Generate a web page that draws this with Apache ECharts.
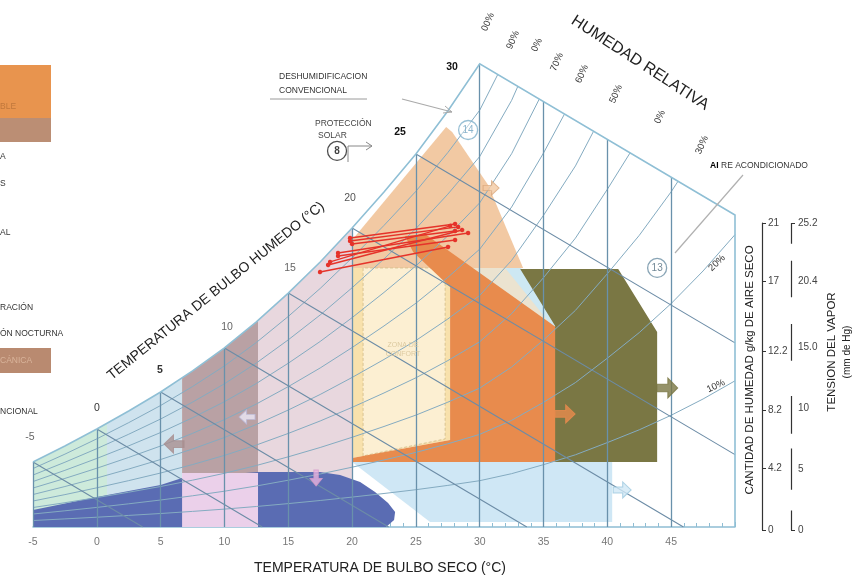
<!DOCTYPE html>
<html><head><meta charset="utf-8">
<script src="https://cdn.jsdelivr.net/npm/echarts@6/dist/echarts.min.js"></script>
<style>html,body{margin:0;padding:0;background:#fff}#main{width:868px;height:583px}</style>
</head><body><div id="main"></div>
<script>
// ---- data (x: dry-bulb °C, y: humidity in the chart's own scale) ----
const satT = [-5,-2.5,0,2.5,5,7.5,10,12.5,15,17.5,20,22.5,25,27.5,30,32.5,35,37.5,40,42.5,45,47.5,50];
const satW = [4.47,5.57,6.74,7.98,9.29,10.74,12.32,14.11,16.10,18.24,20.58,23.06,25.67,28.63,31.87,36.7,42.9,49.7,58.1,66.9,76.9,88.1,100.6];
const rhLevels = [10,20,30,40,50,60,70,80,90];
const wetBulbT = [-5,0,5,10,15,20,25];
const dryBulbLines = [-5,0,5,10,15,20,25,30,35,40,45];
const topEdge = [[30,31.87],[50,21.47]];
const zoneEdges = [-5,0.8,6.68,12.63,20];
const mauveBottom = 3.72;

const humidityTicks = [0,4.2,8.2,12.2,17,21];
const vaporTicks = [0,5,10,15,20.4,25.2];
const vaporSegments = [[25.2,23.5],[22.1,19.1],[16.9,13.9],[11.0,7.9],[6.7,3.3],[1.6,0]];

const regionDarkBlue = [[-5,0],[-5,1.17],[0,2.06],[5,2.89],[6.68,3.37],[12.63,3.79],[17.49,3.79],[19.06,3.58],[20.63,3.10],[21.8,2.41],[22.82,1.65],[23.37,1.03],[23.29,0.48],[22.66,0]];
const regionPinkRect = [[6.68,0],[6.68,3.72],[12.63,3.72],[12.63,0]];
const regionLightBlueLow = [[20,4.47],[40.38,4.47],[40.38,0.34],[26.11,0.34]];
const regionBeige = [[27.68,17.83],[32.38,17.83],[36.07,13.56],[36.07,4.47],[27.68,4.47]];
const regionBlueTri = [[31.99,17.83],[33.24,17.83],[36.07,13.83],[36.07,13.4]];
const regionPeach = [[20,19.75],[27.37,27.53],[27.84,27.19],[30.66,23.54],[33.4,17.83],[20,17.83]];
const regionCream = [[20,17.83],[27.68,17.83],[27.68,5.99],[20,4.75]];
const regionInner = [[20.86,4.89],[20.86,17.83],[27.29,17.83],[27.29,6.06]];
const regionOrange = [[24.15,20.03],[25.72,20.17],[36.07,13.7],[36.07,4.47],[20,4.47],[20,4.75],[27.68,5.99],[27.68,16.52],[24.78,18.93]];
const regionOlive = [[33.17,17.76],[40.85,17.76],[43.9,13.42],[43.9,4.47],[35.91,4.47],[35.91,13.83]];

const redStartT = [19.84,19.84,20.0,18.9,18.28,18.12,17.49,18.9];
const redStartW = [19.89,19.68,19.48,18.86,18.24,18.03,17.55,18.65];
const redEndT   = [28.07,28.31,28.07,29.09,27.68,28.62,27.52,28.07];
const redEndW   = [20.85,20.65,20.37,20.23,20.72,20.44,19.27,19.75];

const arrowT = [36.69,44.69,6.05,41.16,11.77,17.18,30.89];
const arrowW = [7.78,9.57,5.71,2.55,7.57,3.37,23.33];
const arrowDir = [0,0,180,0,180,-90,0];

const markerLabel = ['14','13','8'];
const markerT = [29.09,43.9,18.82];
const markerW = [27.32,17.83,25.88];

// ---- geometry helpers (chart construction) ----
function satAt(t){
  for(let i=0;i<satT.length-1;i++){
    if(t>=satT[i] && t<=satT[i+1]){const f=(t-satT[i])/(satT[i+1]-satT[i]);return satW[i]+f*(satW[i+1]-satW[i]);}
  }
  return satW[satW.length-1];
}
const topSlope=(topEdge[1][1]-topEdge[0][1])/(topEdge[1][0]-topEdge[0][0]);
function topAt(t){return t<=30?satAt(t):topEdge[0][1]+(t-30)*topSlope;}
function strip(t0,t1,wb){
  const pts=[[t0,wb],[t0,satAt(t0)]];
  satT.forEach((t,i)=>{if(t>t0&&t<t1)pts.push([t,satW[i]]);});
  pts.push([t1,satAt(t1)]);pts.push([t1,wb]);return pts;
}
function rhCurve(p){
  const f=p/100,pts=[];
  for(let i=0;i<satT.length;i++){
    const t=satT[i],w=f*satW[i],top=topAt(t);
    if(w<=top){pts.push([t,w]);}
    else{const tp=satT[i-1],wp=f*satW[i-1],topp=topAt(tp);
      const a=(topp-wp)/((w-top)+(topp-wp));
      pts.push([tp+a*(t-tp),wp+a*(w-wp)]);break;}
  }
  return pts;
}
function wbLine(t0){
  const w0=satAt(t0),s=-topSlope,t1=t0+w0/s;
  if(t1<=50)return [[t0,w0],[t1,0]];
  return [[t0,w0],[50,w0-s*(50-t0)]];
}

const regions=[
  {pts:strip(zoneEdges[0],zoneEdges[1],0),fill:'#cdeadb'},
  {pts:strip(zoneEdges[1],zoneEdges[2],0),fill:'#cfe3ee'},
  {pts:strip(zoneEdges[2],zoneEdges[3],mauveBottom),fill:'#b9a1a4'},
  {pts:strip(zoneEdges[3],zoneEdges[4],0),fill:'#e8d7de'},
  {pts:regionDarkBlue,fill:'#5a6cb3'},
  {pts:regionPinkRect,fill:'#ebd0ea'},
  {pts:regionLightBlueLow,fill:'#cfe7f5'},
  {pts:regionBeige,fill:'#ebe3d0'},
  {pts:regionBlueTri,fill:'#cde8f3'},
  {pts:regionPeach,fill:'#f2c9a3'},
  {pts:regionCream,fill:'#f8e1ac'},
  {pts:regionInner,fill:'#fcefd2',stroke:'#d8c391',dash:[3,2],lw:1},
  {pts:regionOrange,fill:'#e88b4d'},
  {pts:regionOlive,fill:'#7a7744'}
];

const boundary=[];
satT.forEach((t,i)=>{if(t<=30)boundary.push([t,satW[i]]);});
boundary.push(topEdge[1]);boundary.push([50,0]);

const arrowColors=['#e88b4d','#7a7744','#a88f90','#cfe7f5','#ebe8f6','#e9b3de','#f2c9a3'];
const arrowBorders=['#e88b4d','#7a7744','#a88f90','#9cc8de','#b9b6d6','#d69acb','#d9a67c'];
const arrowSizes=[[20,18],[21,20],[20,18],[18,16],[16,14],[16,12],[16,14]];
const arrowPath='path://M0,5 L9,5 L9,0 L17,8 L9,16 L9,11 L0,11 Z';

const font='Liberation Sans, Arial, sans-serif';
function txt(text,x,y,o){o=o||{};return {type:'text',x:x,y:y,rotation:o.rot||0,z:100,silent:true,
  style:{text:text,fill:o.fill||'#222',fontSize:o.size||10,fontFamily:font,fontWeight:o.weight||'normal',align:o.align||'center',verticalAlign:'middle'}};}
function ln(x1,y1,x2,y2,c,w){return {type:'line',z:100,silent:true,shape:{x1:x1,y1:y1,x2:x2,y2:y2},style:{stroke:c||'#999',lineWidth:w||1}};}
function pl(pts,c,w){return {type:'polyline',z:100,silent:true,shape:{points:pts},style:{stroke:c||'#999',lineWidth:w||1,fill:null}};}
function box(x,y,w,h,c){return {type:'rect',z:90,silent:true,shape:{x:x,y:y,width:w,height:h},style:{fill:c}};}

const rhText=[['00%',488,22],['90%',513,40],['0%',537,45],['70%',557,62],['60%',582,74],['50%',616,94],['0%',660,117],['30%',702,145]];
const wbText=[['-5',30,437,'#666','normal'],['0',97,408,'#333','normal'],['5',160,370,'#333','bold'],['10',227,327,'#666','normal'],['15',290,268,'#666','normal'],['20',350,198,'#555','normal'],['25',400,132,'#111','bold'],['30',452,67,'#111','bold']];

const graphics=[
  txt('TEMPERATURA DE BULBO SECO (°C)',380,568,{size:14}),
  txt('TEMPERATURA DE BULBO HUMEDO (°C)',216,291,{size:14,rot:0.68}),
  txt('HUMEDAD RELATIVA',640,63,{size:16,rot:-0.576}),
  txt('20%',717,263,{size:9.5,rot:0.75,fill:'#333'}),
  txt('10%',716,386,{size:9.5,rot:0.45,fill:'#333'}),
  txt('CANTIDAD DE HUMEDAD g/kg DE AIRE SECO',750,370,{size:11.5,rot:Math.PI/2}),
  txt('TENSION DEL VAPOR',832,352,{size:11.5,rot:Math.PI/2}),
  txt('(mm de Hg)',847,352,{size:10,rot:Math.PI/2}),
  txt('DESHUMIDIFICACION',279,77,{size:8.5,align:'left',fill:'#333'}),
  txt('CONVENCIONAL',279,91,{size:8.5,align:'left',fill:'#333'}),
  ln(270,99,367,99,'#9a9a9a',1),
  ln(402,99,452,112,'#aaa',1.2),
  pl([[445,106],[452,112],[443,113]],'#aaa',1),
  txt('PROTECCIÓN',315,124,{size:8.5,align:'left',fill:'#444'}),
  txt('SOLAR',318,136,{size:8.5,align:'left',fill:'#444'}),
  pl([[348,162],[348,146],[372,146]],'#888',1),
  pl([[366,142],[372,146],[366,150]],'#888',1),
  txt('AI',710,166,{size:8.5,align:'left',weight:'bold',fill:'#000'}),
  txt('RE ACONDICIONADO',721,166,{size:8.5,align:'left',fill:'#333'}),
  ln(743,175,675,253,'#b0b0b0',1.2),
  txt('ZONA DE',403,345,{size:7,fill:'#dccaa0'}),
  txt('CONFORT',403,354,{size:7,fill:'#dccaa0'}),
  box(0,65,51,53,'#e8944e'),
  box(0,118,51,24,'#bb8e74'),
  txt('BLE',0,107,{size:8.5,align:'left',fill:'#c0783c'}),
  txt('A',0,157,{size:8.5,align:'left',fill:'#333'}),
  txt('S',0,184,{size:8.5,align:'left',fill:'#333'}),
  txt('AL',0,233,{size:8.5,align:'left',fill:'#333'}),
  txt('RACIÓN',0,308,{size:8.5,align:'left',fill:'#333'}),
  txt('ÓN NOCTURNA',0,334,{size:8.5,align:'left',fill:'#333'}),
  box(0,348,51,25,'#b98a70'),
  txt('CÁNICA',0,361,{size:8.5,align:'left',fill:'#d9b49b'}),
  txt('NCIONAL',0,412,{size:8.5,align:'left',fill:'#333'})
];
rhText.forEach(r=>graphics.push(txt(r[0],r[1],r[2],{size:9.5,rot:1.15,fill:'#333'})));
wbText.forEach(r=>graphics.push(txt(r[0],r[1],r[2],{size:10.5,fill:r[3],weight:r[4]})));

const chart=echarts.init(document.getElementById('main'));
const option={
  animation:false,
  backgroundColor:'#ffffff',
  grid:[{left:33,right:133,top:62,bottom:56},{left:762,width:1,top:223,bottom:53},{left:791,width:1,top:223,bottom:53}],
  xAxis:[
    {gridIndex:0,type:'value',min:-5,max:50,interval:5,splitLine:{show:false},
     axisLine:{lineStyle:{color:'#8fbdd3',width:1.5}},
     axisTick:{inside:true,length:5,lineStyle:{color:'#8fbdd3'}},
     minorTick:{show:true,splitNumber:5,length:4,lineStyle:{color:'#8fbdd3'}},
     axisLabel:{color:'#777',fontSize:10.5,margin:10,fontFamily:font,formatter:v=>v===50?'':String(v)}},
    {gridIndex:1,type:'value',show:false,min:0,max:1},
    {gridIndex:2,type:'value',show:false,min:0,max:1}
  ],
  yAxis:[
    {gridIndex:0,type:'value',min:0,max:32,show:false},
    {gridIndex:1,type:'value',min:0,max:21,position:'left',splitLine:{show:false},
     axisLine:{show:true,lineStyle:{color:'#333',width:1.2}},
     axisTick:{show:true,inside:true,length:4,customValues:humidityTicks,lineStyle:{color:'#333'}},
     axisLabel:{inside:true,customValues:humidityTicks,color:'#444',fontSize:10,margin:6,fontFamily:font}},
    {gridIndex:2,type:'value',min:0,max:25.2,position:'left',splitLine:{show:false},
     axisLine:{show:false},
     axisTick:{show:true,inside:true,length:4,customValues:[0,25.2],lineStyle:{color:'#333'}},
     axisLabel:{inside:true,customValues:vaporTicks,color:'#444',fontSize:10,margin:7,fontFamily:font,
       formatter:v=>v===15?'15.0':String(v)}}
  ],
  series:[
    {type:'custom',xAxisIndex:0,yAxisIndex:0,silent:true,z:1,
     data:regions.map(r=>r.pts[0]),
     renderItem:(params,api)=>{const r=regions[params.dataIndex];
       return {type:'polygon',shape:{points:r.pts.map(p=>api.coord(p))},
         style:{fill:r.fill,stroke:r.stroke||null,lineWidth:r.lw||0,lineDash:r.dash||null}};}},
    {type:'lines',coordinateSystem:'cartesian2d',xAxisIndex:0,yAxisIndex:0,polyline:true,silent:true,z:2,
     lineStyle:{color:'#84abc1',width:1,opacity:1},data:rhLevels.map(p=>({coords:rhCurve(p)}))},
    {type:'lines',coordinateSystem:'cartesian2d',xAxisIndex:0,yAxisIndex:0,silent:true,z:2,
     lineStyle:{color:'#6c8ca6',width:1.1,opacity:1},data:wetBulbT.map(t=>({coords:wbLine(t)}))},
    {type:'lines',coordinateSystem:'cartesian2d',xAxisIndex:0,yAxisIndex:0,silent:true,z:2,
     lineStyle:{color:'#6991ab',width:1.3,opacity:1},data:dryBulbLines.map(t=>({coords:[[t,0],[t,topAt(t)]]}))},
    {type:'lines',coordinateSystem:'cartesian2d',xAxisIndex:0,yAxisIndex:0,polyline:true,silent:true,z:2,
     lineStyle:{color:'#8fbfd5',width:1.6,opacity:1},data:[{coords:boundary}]},
    {type:'scatter',xAxisIndex:0,yAxisIndex:0,silent:true,z:3,symbol:arrowPath,
     data:arrowT.map((t,i)=>({value:[t,arrowW[i]],symbolRotate:arrowDir[i],symbolSize:arrowSizes[i],
       itemStyle:{color:arrowColors[i],borderColor:arrowBorders[i],borderWidth:1}}))},
    {type:'lines',coordinateSystem:'cartesian2d',xAxisIndex:0,yAxisIndex:0,silent:true,z:4,
     symbol:['circle','circle'],symbolSize:4.5,
     lineStyle:{color:'#e5332a',width:1.4,opacity:1},
     data:redStartT.map((t,i)=>({coords:[[t,redStartW[i]],[redEndT[i],redEndW[i]]]}))},
    {type:'scatter',xAxisIndex:0,yAxisIndex:0,silent:true,z:5,symbol:'circle',symbolSize:19,
     data:markerLabel.map((l,i)=>({value:[markerT[i],markerW[i]],name:l,
       itemStyle:{color:'rgba(255,255,255,0.55)',borderColor:i===2?'#222':(i===0?'#7fb0cb':'#6a8da3'),borderWidth:1.3},
       label:{show:true,position:'inside',formatter:l,color:i===2?'#111':(i===0?'#6fa3c0':'#4e6a7c'),
         fontSize:10,fontWeight:i===2?'bold':'normal',fontFamily:font}}))},
    {type:'lines',coordinateSystem:'cartesian2d',xAxisIndex:2,yAxisIndex:2,silent:true,z:2,
     lineStyle:{color:'#333',width:1.2,opacity:1},
     data:vaporSegments.map(s=>({coords:[[0,s[0]],[0,s[1]]]}))}
  ],
  graphic:{elements:graphics}
};
chart.setOption(option);
</script></body></html>
